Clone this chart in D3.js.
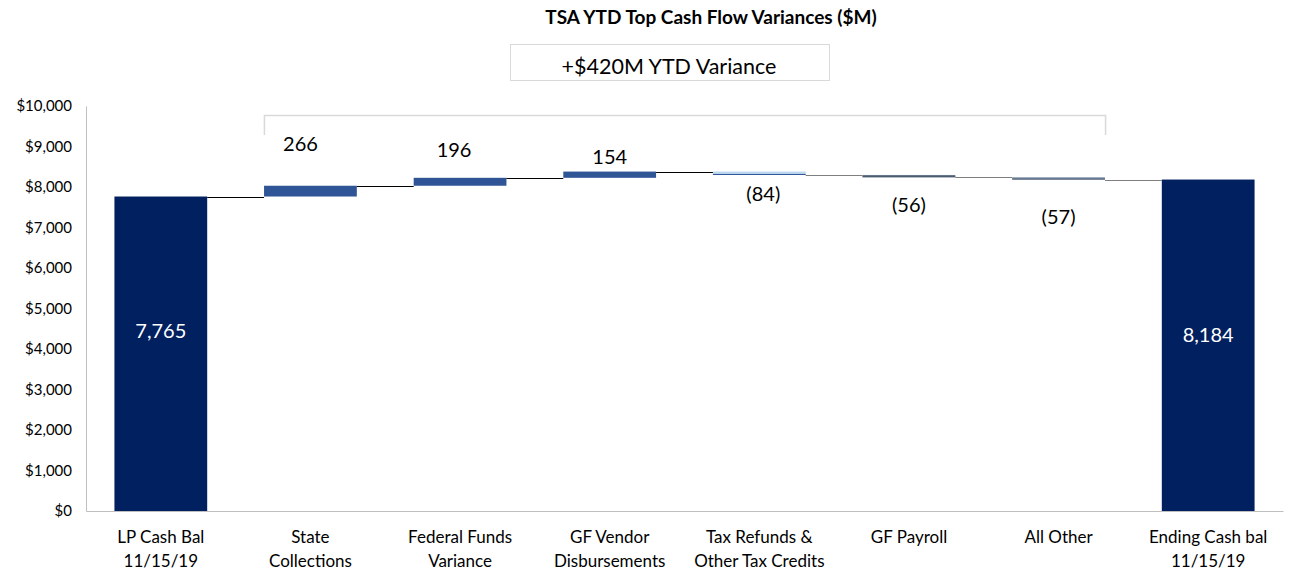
<!DOCTYPE html>
<html>
<head>
<meta charset="utf-8">
<script src="https://cdn.jsdelivr.net/npm/d3@7"></script>
<style>
  body { margin: 0; background: #fff; }
  svg { display: block; font-family: Lato, "Open Sans", sans-serif; }
</style>
</head>
<body>
<svg id="chart" width="1290" height="571"></svg>
<script>
const categories = ["LP Cash Bal\n11/15/19", "State\nCollections", "Federal Funds\nVariance", "GF Vendor\nDisbursements", "Tax Refunds &\nOther Tax Credits", "GF Payroll", "All Other", "Ending Cash bal\n11/15/19"];
const values = [7765, 266, 196, 154, -84, -56, -57, 8184];
const kinds = ["total", "delta", "delta", "delta", "delta", "delta", "delta", "total"];
const valueLabels = ["7,765", "266", "196", "154", "(84)", "(56)", "(57)", "8,184"];
const barColors = ["#002060", "#2F5597", "#2F5597", "#2F5597", "#BDD7EE", "#66778A", "#8497B0", "#002060"];
const yTicks = [0, 1000, 2000, 3000, 4000, 5000, 6000, 7000, 8000, 9000, 10000];
const title = "TSA YTD Top Cash Flow Variances ($M)";
const boxText = "+$420M YTD Variance";

const svg = d3.select("#chart");
const margin = { left: 86, right: 7, top: 106, bottom: 60 };
const W = 1290, H = 571;

const x = d3.scaleBand().domain(categories).range([margin.left, W - margin.right]).paddingInner(0.38).paddingOuter(0.19);
const y = d3.scaleLinear().domain([0, 10000]).range([H - margin.bottom, margin.top]);

let running = 0;
const bars = values.map((v, i) => {
  let y0, y1;
  if (kinds[i] === "total") { y0 = 0; y1 = v; running = v; }
  else { y0 = running; y1 = running + v; running = y1; }
  return { cat: categories[i], v, y0, y1, end: running, i };
});

// title
svg.append("text").attr("x", 711).attr("y", 24).attr("text-anchor", "middle")
  .attr("font-weight", "bold").attr("font-size", 19).attr("fill", "#000").text(title);

// box
svg.append("rect").attr("x", 510.5).attr("y", 44.5).attr("width", 319).attr("height", 36)
  .attr("fill", "#fff").attr("stroke", "#d9d9d9").attr("stroke-width", 1);
svg.append("text").attr("x", 669).attr("y", 74).attr("text-anchor", "middle")
  .attr("font-size", 21.5).attr("fill", "#000").text(boxText);

// bracket
const bx0 = x(categories[1]) + x.bandwidth() / 2 - 46, bx1 = x(categories[6]) + x.bandwidth() / 2 + 47;
svg.append("path").attr("d", `M${bx0},135V115.5H${bx1}V135`).attr("fill", "none")
  .attr("stroke", "#d9d9d9").attr("stroke-width", 1.5);

// y axis
const yAxis = svg.append("g").attr("transform", `translate(${margin.left},0)`)
  .call(d3.axisLeft(y).tickValues(yTicks).tickSize(0).tickPadding(14).tickFormat(d => "$" + d3.format(",")(d)));
yAxis.select(".domain").attr("stroke", "#bfbfbf");
yAxis.selectAll("text").attr("font-size", 15).attr("fill", "#000").attr("font-family", "Lato, 'Open Sans', sans-serif");

// bars
svg.append("g").selectAll("rect").data(bars).join("rect")
  .attr("x", d => x(d.cat))
  .attr("width", x.bandwidth())
  .attr("y", d => y(Math.max(d.y0, d.y1)))
  .attr("height", d => Math.max(1, Math.abs(y(d.y0) - y(d.y1))))
  .attr("fill", (d, i) => barColors[i]);

// bottom edges for negative bars
svg.append("g").selectAll("line").data(bars.filter(d => d.v < 0 && kinds[d.i] === "delta")).join("line")
  .attr("x1", d => x(d.cat)).attr("x2", d => x(d.cat) + x.bandwidth())
  .attr("y1", d => y(d.y1) - 0.5).attr("y2", d => y(d.y1) - 0.5)
  .attr("stroke", (d) => d.i === 4 ? "#2F5597" : "#44546A").attr("stroke-width", 1);

// connectors
svg.append("g").selectAll("line").data(bars.slice(0, -1)).join("line")
  .attr("x1", d => x(d.cat) + x.bandwidth())
  .attr("x2", d => x(categories[d.i + 1]))
  .attr("y1", d => Math.round(y(d.end)) + 0.5)
  .attr("y2", d => Math.round(y(d.end)) + 0.5)
  .attr("stroke", d => d.i >= 4 ? "#7f7f7f" : "#000").attr("stroke-width", 1.2);

// x axis
const xAxis = svg.append("g").attr("transform", `translate(0,${H - margin.bottom})`)
  .call(d3.axisBottom(x).tickSize(0).tickFormat(""));
xAxis.select(".domain").attr("stroke", "#bfbfbf");
const catG = svg.append("g").selectAll("text").data(categories).join("text")
  .attr("text-anchor", "middle").attr("font-size", 17).attr("fill", "#000")
  .attr("transform", d => `translate(${x(d) + x.bandwidth() / 2},${H - margin.bottom + 32})`);
catG.each(function (d) {
  const lines = d.split("\n");
  d3.select(this).selectAll("tspan").data(lines).join("tspan")
    .attr("x", 0).attr("dy", (t, j) => j === 0 ? 0 : 24).text(t => t);
});

// value labels (offsets mimic the manual label placement of the original)
const labelOffsets = [23, 42, 28, 15, 19, 28, 37, 10];
const labelShiftX = [0, -10, -6, 0, 4, 0, 0, 0];
svg.append("g").selectAll("text").data(bars).join("text")
  .attr("text-anchor", "middle")
  .attr("font-size", 20)
  .attr("fill", d => kinds[d.i] === "total" ? "#fff" : "#000")
  .attr("x", d => x(d.cat) + x.bandwidth() / 2 + labelShiftX[d.i])
  .attr("y", d => {
    if (kinds[d.i] === "total") return y(d.v / 2) - labelOffsets[d.i] + 7;
    if (d.v >= 0) return y(d.y1) - labelOffsets[d.i] + 7;
    return y(d.y1) + labelOffsets[d.i] + 7;
  })
  .text((d, i) => valueLabels[i]);
</script>
</body>
</html>
